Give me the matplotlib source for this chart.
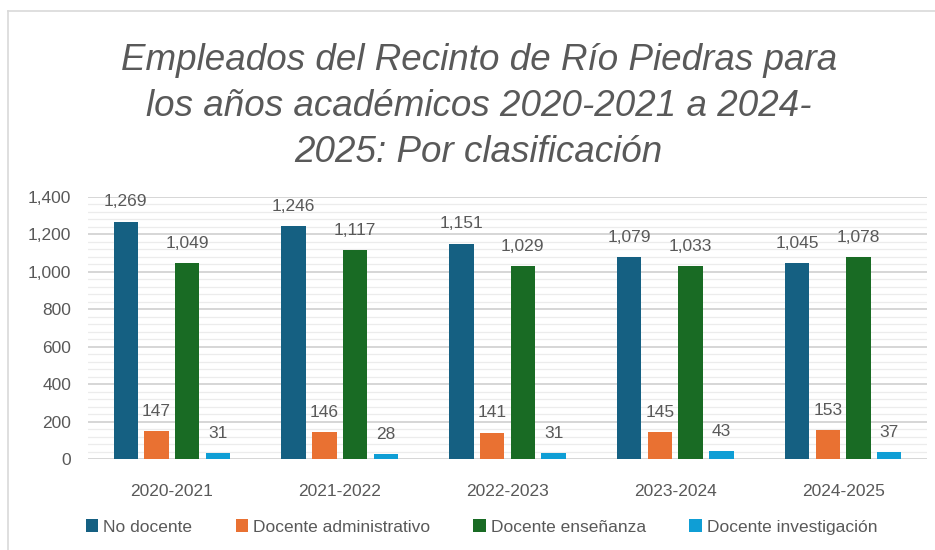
import numpy as np
import matplotlib
matplotlib.use("Agg")
import matplotlib.pyplot as plt
from matplotlib.ticker import MultipleLocator, FuncFormatter

years = ["2020-2021", "2021-2022", "2022-2023", "2023-2024", "2024-2025"]
no_docente = [1269, 1246, 1151, 1079, 1045]
doc_admin = [147, 146, 141, 145, 153]
doc_ensenanza = [1049, 1117, 1029, 1033, 1078]
doc_invest = [31, 28, 31, 43, 37]

series = [
    ("No docente", no_docente, "#156082"),
    ("Docente administrativo", doc_admin, "#E97132"),
    ("Docente enseñanza", doc_ensenanza, "#196B24"),
    ("Docente investigación", doc_invest, "#0F9ED5"),
]

plt.rcParams['font.family'] = ['Liberation Sans', 'DejaVu Sans']
gray = "#595959"

fig = plt.figure(figsize=(9.35, 5.5), dpi=100)
ax = fig.add_axes([88/935, (550-459)/550, (927-88)/935, 262/550])

x = np.arange(len(years))
pitch = 0.183
width = 0.145
for i, (name, vals, col) in enumerate(series):
    pos = x + (i - 1.5) * pitch
    bars = ax.bar(pos, vals, width, color=col, label=name, zorder=3)
    for b, v in zip(bars, vals):
        ax.text(b.get_x() + b.get_width()/2, v + 65, f"{v:,}", ha="center",
                va="bottom", fontsize=12.5, color=gray)

ax.set_xlim(-0.5, 4.5)
ax.set_ylim(0, 1400)
ax.yaxis.set_major_locator(MultipleLocator(200))
ax.yaxis.set_minor_locator(MultipleLocator(40))
ax.yaxis.set_major_formatter(FuncFormatter(lambda v, p: f"{int(v):,}"))
ax.grid(axis="y", which="major", color="#d0d0d0", linewidth=1.2, zorder=0)
ax.grid(axis="y", which="minor", color="#ececec", linewidth=0.9, zorder=0)
for s in ax.spines.values():
    s.set_visible(False)
ax.tick_params(axis="both", which="both", length=0, colors=gray, labelsize=12.5)
ax.set_xticks(x)
ax.set_xticklabels(years)
ax.tick_params(axis="x", pad=18)
ax.tick_params(axis="y", pad=12)

fig.text(0.512, 1 - 170/550, "Empleados del Recinto de Río Piedras para\nlos años académicos 2020-2021 a 2024-\n2025: Por clasificación",
         ha="center", va="bottom", fontsize=26.5, style="italic", color=gray, linespacing=1.4)

fig.legend(loc="center", bbox_to_anchor=(0.515, 1 - 527/550), ncol=4, frameon=False,
           fontsize=12.5, handlelength=0.7, handleheight=0.7, handletextpad=0.3,
           columnspacing=2.5, labelcolor=gray)

# chart border
fig.add_artist(plt.Line2D([8/935, 1], [1 - 11/550, 1 - 11/550], transform=fig.transFigure, color="#d9d9d9", lw=1.2))
fig.add_artist(plt.Line2D([8/935, 8/935], [0, 1 - 11/550], transform=fig.transFigure, color="#d9d9d9", lw=1.2))

fig.savefig("out.png", dpi=100)
